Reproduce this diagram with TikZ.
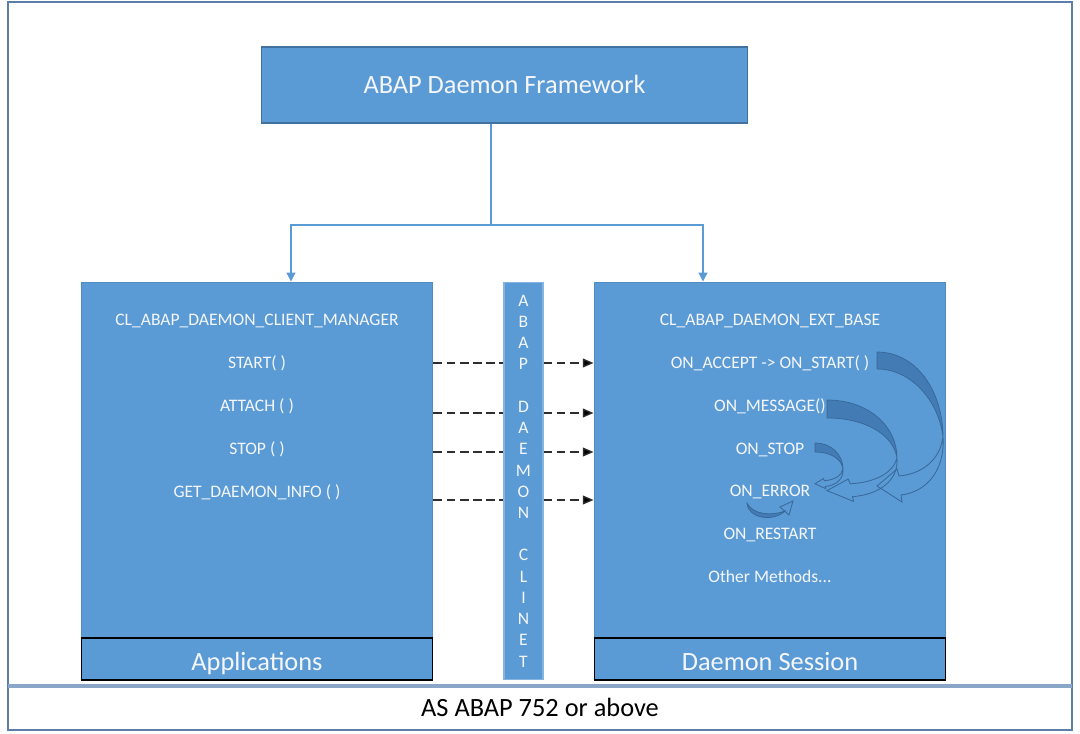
\documentclass[tikz,border=0pt]{standalone}
\usepackage{fontspec}
\setmainfont{Carlito}
\usetikzlibrary{arrows.meta}
\definecolor{boxblue}{HTML}{5B9BD5}
\definecolor{boxedge}{HTML}{41719C}
\definecolor{frameedge}{HTML}{5B7FA8}
\definecolor{sepline}{HTML}{8AA6C6}
\definecolor{txtwhite}{HTML}{F4F6FA}
\definecolor{arrowdark}{HTML}{3A6FA6}
\definecolor{dashgray}{HTML}{2E2E2E}

\newcommand{\cArrow}[5]{%
\begin{scope}[shift={(#1,#2)},xscale=#3,yscale=#4]
 \filldraw[curvfill] (0,0) .. controls (40,0) and (66,40) .. (66,85)
   .. controls (62,50) and (35,#5) .. (0,#5) -- cycle;
 \draw[curvline] (66,85) .. controls (63,108) and (45,122) .. (22,124)
   -- (20,117) -- (0,134) -- (25,150) -- (24,143)
   .. controls (50,140) and (68,118) .. (66,85);
\end{scope}}

\begin{document}
\begin{tikzpicture}[x=0.02cm,y=-0.02cm,
  bluebox/.style={draw=boxedge, line width=0.6pt, fill=boxblue, text=txtwhite, inner sep=0pt},
  capbox/.style={draw=black, line width=0.6pt, fill=boxblue, text=txtwhite, inner sep=0pt,
     font=\fontsize{15}{18}\selectfont, text height=13pt, text depth=0pt},
  item/.style={text=txtwhite, font=\fontsize{10}{12}\selectfont, inner sep=0pt, anchor=base},
  conn/.style={draw=boxblue, line width=0.7pt},
  dashln/.style={draw=dashgray, line width=0.75pt, dash pattern=on 5pt off 2.5pt},
  curvfill/.style={fill=arrowdark, fill opacity=0.7, draw=arrowdark!85!black, draw opacity=0.8, line width=0.4pt},
  curvline/.style={draw=arrowdark!85!black, draw opacity=0.8, line width=0.5pt}]
\useasboundingbox (0,0) rectangle (1080,734);
\fill[white] (0,0) rectangle (1080,734);

% outer frame and bottom band
\draw[frameedge, line width=1.1pt] (8,2) rectangle (1072,730);
\draw[sepline, line width=1.8pt] (8,686) -- (1072,686);
\node[font=\fontsize{15}{18}\selectfont, text height=9.7pt, text depth=0pt, inner sep=0pt] (base) at (540,708) {AS ABAP 752 or above};

% top box
\node[bluebox, minimum width=9.74cm, minimum height=1.52cm, font=\fontsize{15}{18}\selectfont,
  text height=9.7pt, text depth=0pt] (top) at (504.5,85) {ABAP Daemon Framework};

% main boxes
\node[bluebox, draw=boxblue!90!black, minimum width=7.04cm, minimum height=7.12cm] (leftbox) at (257,460) {};
\node[capbox, minimum width=7.04cm, minimum height=0.84cm] (leftcap) at (257,659) {Applications};
\node[bluebox, draw=boxblue!90!black, minimum width=7.04cm, minimum height=7.12cm] (rightbox) at (770,460) {};
\node[capbox, minimum width=7.04cm, minimum height=0.84cm] (rightcap) at (770,659) {Daemon Session};

% middle column
\node[bluebox, draw=boxblue!75!white, minimum width=0.78cm, minimum height=7.96cm, align=center,
  font=\fontsize{10}{12.08}\selectfont] (mid) at (523.5,481)
  {A\\B\\A\\P\\~\\D\\A\\E\\M\\O\\N\\~\\C\\L\\I\\N\\E\\T};

% connectors from top
\coordinate (split) at (491,225);
\draw[conn] (top.south -| split) -- (split);
\draw[conn, -{Triangle[length=5pt,width=5pt,fill=boxblue]}] (split) -| ([xshift=0.68cm]leftbox.north);
\draw[conn, -{Triangle[length=5pt,width=5pt,fill=boxblue]}] (split) -| ([xshift=-1.34cm]rightbox.north);

% left items
\node[item] (lcls) at (257,325.5) {CL\_ABAP\_DAEMON\_CLIENT\_MANAGER};
\node[item] (lstart) at (257,368.5) {START( )};
\node[item] (lattach) at (257,411.5) {ATTACH ( )};
\node[item] (lstop) at (257,454.5) {STOP ( )};
\node[item] (linfo) at (257,497.5) {GET\_DAEMON\_INFO ( )};

% right items
\node[item] (rcls) at (770,325.5) {CL\_ABAP\_DAEMON\_EXT\_BASE};
\node[item] (raccept) at (770,368.5) {ON\_ACCEPT -> ON\_START( )};
\node[item] (rmsg) at (770,411.5) {ON\_MESSAGE()};
\node[item] (rstop) at (770,454.5) {ON\_STOP};
\node[item] (rerr) at (770,496.5) {ON\_ERROR};
\node[item] (rrestart) at (770,539.5) {ON\_RESTART};
\node[item] (rother) at (770,582.5) {Other Methods...};

% dashed calls
\foreach \yy in {363,413,452,500}{
  \draw[dashln] (leftbox.east |- 0,\yy) -- (mid.west |- 0,\yy);
  \draw[dashln, -{Triangle[length=6pt,width=5pt,fill=black]}] (mid.east |- 0,\yy) -- (rightbox.west |- 0,\yy);
}

% curved block arrows
\cArrow{877}{352}{1}{1}{17}
\cArrow{827}{400}{1.06}{0.676}{26.6}
\cArrow{815}{443}{0.424}{0.304}{29.6}

% small arrow under ON_ERROR
\filldraw[curvfill] (747,503) .. controls (748,519) and (774,522) .. (785,511)
  .. controls (772,516) and (753,515) .. (747,503) -- cycle;
\draw[curvline] (780,507) -- (793,501) -- (789,515) -- cycle;
\end{tikzpicture}
\end{document}
